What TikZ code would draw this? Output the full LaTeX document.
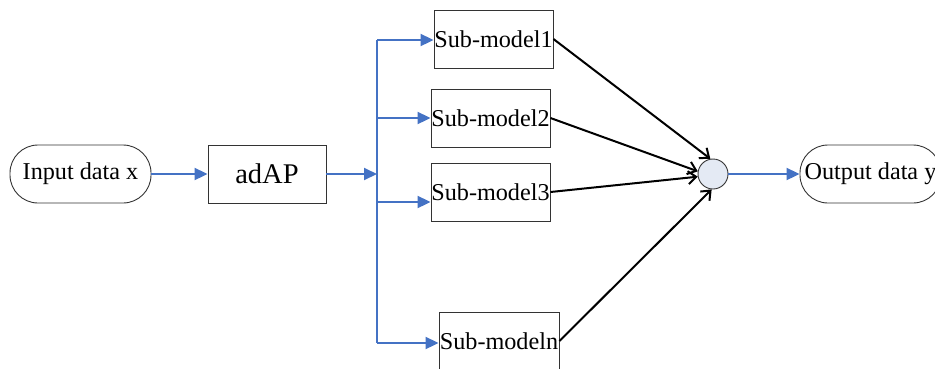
\documentclass[tikz,border=0pt]{standalone}
\usepackage{fontspec}
\setmainfont{Liberation Serif}
\usetikzlibrary{arrows.meta}
\definecolor{busblue}{HTML}{4472C4}
\definecolor{sumfill}{HTML}{E4EAF4}
\begin{document}
\begin{tikzpicture}[x=1pt,y=-1pt,
        box/.style={draw=black!80,line width=0.9pt,inner sep=0pt,minimum width=119pt,minimum height=58pt,font=\fontsize{24.2}{28}\selectfont},
        term/.style={box,minimum width=141pt,rounded corners=28pt},
        feed/.style={-{Triangle[length=13pt,width=12pt]},busblue,line width=2pt},
        vote/.style={-{Straight Barb[length=8pt,width=13pt]},black,line width=2pt}]
    \useasboundingbox (0,0) rectangle (935,368);
    \node [term] (in) at (80.5,174) {Input data x};
    \node [box,minimum width=118pt,font=\fontsize{28.5}{32}\selectfont] (ad) at (267,174) {adAP};
    \node [box] (s1) at (493.5,39) {Sub-model1};
    \node [box] (s2) at (490.5,118) {Sub-model2};
    \node [box] (s3) at (490.5,192) {Sub-model3};
    \node [box,minimum width=120pt] (sn) at (499,341) {Sub-modeln};
    \node [circle,draw=black!80,line width=0.9pt,fill=sumfill,minimum size=30pt,inner sep=0pt] (c) at (713,174) {};
    \node [term] (out) at (870.5,174) {Output data y};
    \coordinate (b1) at (377,40);
    \coordinate (b2) at (377,118);
    \coordinate (bm) at (377,174);
    \coordinate (b3) at (377,202);
    \coordinate (bn) at (377,343);
    \draw [feed] (in) -- (ad);
    \draw [feed] (ad) -- (bm);
    \draw [busblue,line width=2pt] (b1) -- (bn);
    \draw [feed] (b1) -- (b1 -| s1.west);
    \draw [feed] (b2) -- (b2 -| s2.west);
    \draw [feed] (b3) -- (b3 -| s3.west);
    \draw [feed] (bn) -- (bn -| sn.west);
    \draw [vote] (s1.east) -- (c.100);
    \draw [vote] (s2.east) -- (c.170);
    \draw [vote] (s3.east) -- (c.190);
    \draw [vote] (sn.east) -- (c.265);
    \draw [feed] (c) -- (out);
\end{tikzpicture}
\end{document}
